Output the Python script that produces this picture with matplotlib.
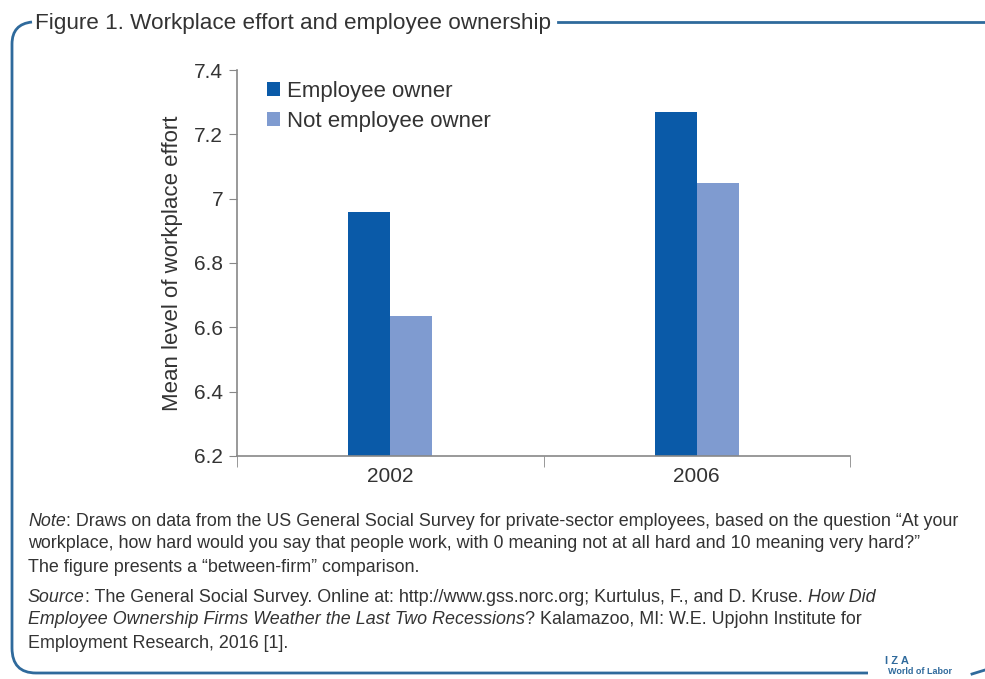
import matplotlib
matplotlib.use("Agg")
import matplotlib.pyplot as plt
import numpy as np
from matplotlib.path import Path
from matplotlib.patches import PathPatch

# Data
YEARS = ["2002", "2006"]
OWNER = [6.96, 7.27]
NOT_OWNER = [6.635, 7.05]
SERIES = ["Employee owner", "Not employee owner"]
Y_TICKS = [6.2, 6.4, 6.6, 6.8, 7.0, 7.2, 7.4]
Y_TICK_LABELS = ["6.2", "6.4", "6.6", "6.8", "7", "7.2", "7.4"]

TITLE = "Figure 1. Workplace effort and employee ownership"
NOTE_LINES = [
    [("Note", True), (": Draws on data from the US General Social Survey for private-sector employees, based on the question \u201cAt your", False)],
    [("workplace, how hard would you say that people work, with 0 meaning not at all hard and 10 meaning very hard?\u201d", False)],
    [("The figure presents a \u201cbetween-firm\u201d comparison.", False)],
]
SOURCE_LINES = [
    [("Source", True), (": The General Social Survey. Online at: http://www.gss.norc.org; Kurtulus, F., and D. Kruse. ", False), ("How Did", True)],
    [("Employee Ownership Firms Weather the Last Two Recessions", True), ("? Kalamazoo, MI: W.E. Upjohn Institute for", False)],
    [("Employment Research, 2016 [1].", False)],
]

DARK = "#0a5aa8"
LIGHT = "#7f9bd0"
BORDER = "#2f6a9c"
TEXT = "#333333"
FONT = "Liberation Sans"

W, H = 985, 679
fig = plt.figure(figsize=(W / 100, H / 100), dpi=100)
renderer = fig.canvas.get_renderer()


def fx(px):
    return px / W


def fy(py):
    return 1 - py / H


ax = fig.add_axes([fx(237), fy(456), fx(850) - fx(237), fy(70) - fy(456)])

x = np.arange(len(YEARS))
bw = 0.137
ax.bar(x - bw / 2, OWNER, bw, color=DARK, label=SERIES[0], zorder=2)
ax.bar(x + bw / 2, NOT_OWNER, bw, color=LIGHT, label=SERIES[1], zorder=2)

ax.set_xlim(-0.5, 1.5)
ax.set_ylim(6.2, 7.4)
ax.set_yticks(Y_TICKS)
ax.set_yticklabels(Y_TICK_LABELS, fontsize=15, color=TEXT, family=FONT)
ax.set_xticks(x)
ax.set_xticklabels(YEARS, fontsize=15, color=TEXT, family=FONT)
ax.tick_params(axis="x", length=0, pad=8)
ax.tick_params(axis="y", length=6, color="#888888", pad=4)
ax.set_xticks([-0.5, 0.5, 1.5], minor=True)
ax.tick_params(axis="x", which="minor", length=8, color="#888888")

for side in ["top", "right"]:
    ax.spines[side].set_visible(False)
for side in ["left", "bottom"]:
    ax.spines[side].set_color("#888888")
    ax.spines[side].set_linewidth(1.2)

ax.set_ylabel("Mean level of workplace effort", fontsize=16, color=TEXT,
              family=FONT, labelpad=8)

leg = ax.legend(loc="upper left", bbox_to_anchor=(0.035, 0.995), frameon=False,
                fontsize=16, handlelength=0.55, handleheight=0.55,
                handletextpad=0.35, labelspacing=0.4, borderaxespad=0)
for t in leg.get_texts():
    t.set_color(TEXT)
    t.set_family(FONT)

# Border frame with rounded corners
verts = [
    (fx(32), fy(22)),
    (fx(12), fy(24)), (fx(12), fy(44)),
    (fx(12), fy(648)),
    (fx(12), fy(673)), (fx(36), fy(673)),
    (fx(868), fy(673)),
]
codes = [Path.MOVETO, Path.CURVE3, Path.CURVE3, Path.LINETO,
         Path.CURVE3, Path.CURVE3, Path.LINETO]
fig.patches.append(PathPatch(Path(verts, codes), transform=fig.transFigure,
                             fill=False, edgecolor=BORDER, linewidth=2))
fig.add_artist(plt.Line2D([fx(558), fx(985)], [fy(22), fy(22)],
                          transform=fig.transFigure, color=BORDER, linewidth=2))
fig.add_artist(plt.Line2D([fx(972), fx(985)], [fy(674), fy(670)],
                          transform=fig.transFigure, color=BORDER, linewidth=2))


def fit_size(parts, target, base=12):
    # scale a font size so that a line of text spans the target width
    total = 0
    for txt, ital in parts:
        t = fig.text(0, 0, txt, fontsize=base, family=FONT,
                     style="italic" if ital else "normal")
        total += t.get_window_extent(renderer=renderer).width
        t.remove()
    return base * target / total


title_size = fit_size([(TITLE, False)], 517, 14)
fig.text(fx(35), fy(23), TITLE, fontsize=title_size, color=TEXT,
         family=FONT, va="center", ha="left")

note_size = fit_size(NOTE_LINES[0], 932)


def draw_line(parts, py):
    xpos = 28
    for txt, ital in parts:
        t = fig.text(fx(xpos), fy(py), txt, fontsize=note_size, color=TEXT,
                     family=FONT, style="italic" if ital else "normal",
                     va="center", ha="left")
        xpos += t.get_window_extent(renderer=renderer).width


for i, parts in enumerate(NOTE_LINES):
    draw_line(parts, 521 + i * 23)
for i, parts in enumerate(SOURCE_LINES):
    draw_line(parts, 597 + i * 23)

fig.text(fx(897), fy(661), "I Z A", fontsize=8, color=BORDER, weight="bold",
         family=FONT, ha="center", va="center")
fig.text(fx(920), fy(672), "World of Labor", fontsize=6.5, color=BORDER,
         weight="bold", family=FONT, ha="center", va="center")

fig.savefig("out.png", dpi=100)
